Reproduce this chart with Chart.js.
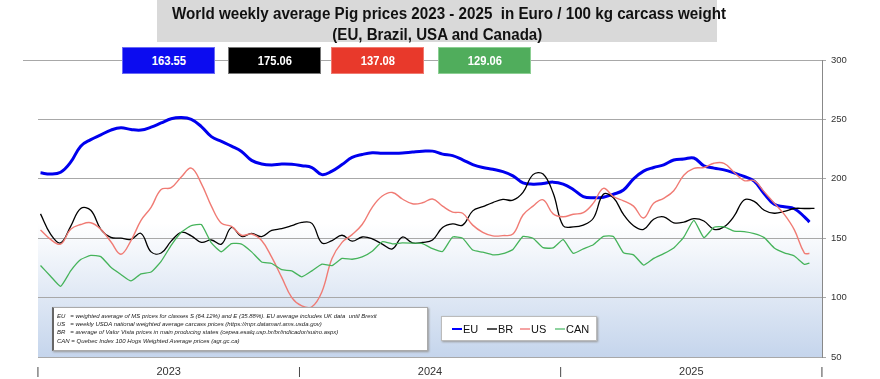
<!DOCTYPE html>
<html>
<head>
<meta charset="utf-8">
<script src="https://cdn.jsdelivr.net/npm/chart.js@4.4.1/dist/chart.umd.min.js"></script>
<style>
  html,body{margin:0;padding:0;background:#fff;}
  #wrap{position:relative;width:880px;height:379px;overflow:hidden;}
  #c{position:absolute;left:0;top:0;}
  #title{position:absolute;left:157px;top:0;width:560px;height:42px;background:#d9d9d9;color:#111;font-family:'Liberation Sans',sans-serif;font-weight:bold;font-size:16px;}
  .tl{position:absolute;left:0;width:560px;text-align:center;white-space:nowrap;line-height:18px;}
  .tl span{display:inline-block;transform-origin:50% 50%;}
  .vbox{position:absolute;top:47px;height:27px;color:#fff;font-family:'Liberation Sans',sans-serif;font-weight:bold;font-size:13px;line-height:25px;text-align:center;box-sizing:border-box;}
  .vbox span{display:inline-block;transform:scaleX(0.86);}
  #note{position:absolute;left:52px;top:307px;width:376px;height:44px;background:#fff;border:1px solid #aaa;border-left:2px solid #666;box-shadow:1px 1px 2px #999;box-sizing:border-box;padding:4px 0 0 3px;font-family:'Liberation Sans',sans-serif;font-style:italic;font-size:6px;line-height:8.2px;color:#222;white-space:pre;}
  #legend{position:absolute;left:441px;top:316px;width:156px;height:25px;background:#fff;border:1px solid #bbb;box-shadow:1px 1px 2px #999;box-sizing:border-box;font-family:'Liberation Sans',sans-serif;font-size:11px;color:#111;}
  .li{position:absolute;top:5px;height:14px;line-height:14px;}
  .ll{position:absolute;top:11px;width:10px;}
</style>
</head>
<body>
<div id="wrap">
  <canvas id="c" width="880" height="379"></canvas>
  <div id="title">
    <div class="tl" style="top:5px"><span id="t1" data-w="554">World weekly average Pig prices 2023 - 2025&nbsp; in Euro / 100 kg carcass weight</span></div>
    <div class="tl" style="top:26px"><span id="t2" data-w="210">(EU, Brazil, USA and Canada)</span></div>
  </div>
  <div id="note">EU   = weighted average of MS prices for classes S (64.12%) and E (35.88%). EU average includes UK data  until Brexit
US   = weekly USDA national weighted average carcass prices (https://mpr.datamart.ams.usda.gov)
BR   = average of Valor Vista prices in main producing states (cepea.esalq.usp.br/br/indicador/suino.aspx)
CAN = Quebec Index 100 Hogs Weighted Average prices (agr.gc.ca)</div>
  <div id="legend"></div>
</div>
<script>
// Week numbers (1 = first week of 2023), sampled every 2 weeks
const weeks = [1,3,5,7,9,11,13,15,17,19,21,23,25,27,29,31,33,35,37,39,41,43,45,47,49,51,
  53,55,57,59,61,63,65,67,69,71,73,75,77,79,81,83,85,87,89,91,93,95,97,99,101,103,
  105,107,109,111,113,115,117,119,121,123,125,127,129,131,133,135,137,139,141,143,145,147,149,151,153,154,155];

const seriesNames = ['EU','BR','US','CAN'];

const euValues = [205,204,205.5,214,227.5,233,237,241,243,241.5,
  241,243.5,247,250.5,251.5,250,244,235.5,231.5,227.5,
  223,215.5,212.5,211.7,212.4,212.2,211,209.5,203.5,206.5,
  212,218,220.5,222,221.5,221.5,221.7,222.5,223.2,223.3,
  220.8,219.5,216,212,209.5,208,206,202.5,196.5,195.5,
  196,197.2,195.5,191,185,184,184.5,187,190.6,200,
  206.5,209.5,211.8,215.8,216.7,217.5,211,209,207.5,205,
  202,198,187.5,178.5,176.5,174.8,168,163.55];

const brValues = [170.5,153.5,146,160,175,173.5,157.5,150.7,150,149,
  154,138.5,137.5,147.5,155,152,146.5,148.5,145,159,
  151.5,154,151.3,156.5,158,160.5,163.4,162.5,146,148,
  152.5,147.5,151,149.5,145,141,151,146,146.5,148.5,
  159,162,161,173,176.5,180,182.6,182,188.5,203.5,
  204,188,160.5,159.5,161,166.8,187,184,170,160.5,
  157.5,166,168,163,163.5,166.5,164.5,157.5,159.5,168.5,
  182.2,181,173.5,171,172.5,175,175,175,175.06];

const usValues = [157,149,145,157.5,161.5,163,157.5,147,136.5,148,
  165,176,191,192.5,201.5,209,196,177,162.5,160,
  152.5,153.5,148,134,117,100,93,92.3,105,133,
  146.5,153,161.5,176,185.5,188.5,183,179,179.8,183,
  177,172,171,161,155,152,152.2,153.5,169.5,177,
  182.3,170.5,168,170.2,171.5,179.5,192,185,181.5,177,
  167,179.5,183.6,190,203,208.8,209.5,213.1,213,205.5,
  198.5,198.5,189,179.5,170,157,137.5,137.08];

const canValues = [127,118,109.5,122.5,132,135.5,134.5,125.5,119.5,114,
  120,121.5,130.5,144,155,160.5,161.5,146,138.6,145.5,
  145,138.5,130,128.7,123.5,122.5,117.5,122.5,128.2,127,
  133,132.3,134.2,139,147,145.3,146,145.8,145.5,141.2,
  138.8,151,150,140,138.2,136,137,140.5,151.5,150,
  142,141.8,148.8,137.3,141,144.5,151.5,151.5,137.8,136,
  127.4,133,137,141.8,151,165,150.5,159.2,159.6,156,
  155.5,153.8,150.5,141.8,137.7,135,128,129.06];

// x axis: year boundaries and year labels (in week units)
const xTickValues = [0.5,26.5,52.5,78.5,104.5,130.5,156.5];
const xTickLabels = ['|','2023','|','2024','|','2025','|'];

const allValues = {EU:euValues, BR:brValues, US:usValues, CAN:canValues};
const lineColors = {EU:'#0000ee', BR:'#000000', US:'#f07b74', CAN:'#45b35a'};
const lineWidths = {EU:3, BR:1.3, US:1.4, CAN:1.3};
const tensions = {EU:0.4, BR:0.4, US:0.4, CAN:0.15};
const legendColors = {EU:'#0000ff', BR:'#555555', US:'#f5a3a3', CAN:'#8fd3a0'};
const boxColors = {EU:['#0c0cf0','#6a6af5'], BR:['#000000','#777777'], US:['#e8392b','#f07a70'], CAN:['#50ad5c','#8ccf93']};

const toPts = vals => vals.map((v,i)=>({x:weeks[i], y:v}));

const datasets = ['CAN','US','BR','EU'].map(n=>({
  label:n, data:toPts(allValues[n]), borderColor:lineColors[n], borderWidth:lineWidths[n],
  tension:tensions[n], pointRadius:0, fill:false
}));

const bgPlugin = {
  id:'bg',
  beforeDraw(chart){
    const {ctx, chartArea:a} = chart;
    const g = ctx.createLinearGradient(0,a.top,0,a.bottom);
    g.addColorStop(0,'#ffffff');
    g.addColorStop(0.55,'#ffffff');
    g.addColorStop(1,'#c5d5ec');
    ctx.save();
    ctx.fillStyle = g;
    ctx.fillRect(a.left,a.top,a.right-a.left,a.bottom-a.top);
    const y = chart.scales.y.getPixelForValue(300);
    ctx.strokeStyle = '#a8a8a8'; ctx.lineWidth = 1;
    ctx.beginPath(); ctx.moveTo(23, Math.round(y)+0.5); ctx.lineTo(a.left, Math.round(y)+0.5); ctx.stroke();
    ctx.restore();
  }
};

new Chart(document.getElementById('c'), {
  type:'line',
  data:{datasets},
  options:{
    responsive:false, animation:false, devicePixelRatio:1,
    layout:{padding:{left:38,top:60,right:0,bottom:0}},
    plugins:{legend:{display:false}, title:{display:false}, tooltip:{enabled:false}},
    scales:{
      x:{
        type:'linear', min:0.5, max:156.5,
        grid:{display:false}, border:{display:false},
        afterBuildTicks:s=>{ s.ticks = xTickValues.map(v=>({value:v})); },
        afterFit:s=>{ s.height = 22; },
        ticks:{autoSkip:false, maxRotation:0, padding:0, color:'#333',
          font:{family:"'Liberation Sans',sans-serif", size:11},
          callback:v=>{ const i = xTickValues.indexOf(v); return i>=0 ? xTickLabels[i] : ''; }}
      },
      y:{
        position:'right', min:50, max:300,
        ticks:{stepSize:50, padding:5, color:'#333', font:{family:"'Liberation Sans',sans-serif", size:9.5}},
        grid:{color:'#a8a8a8', lineWidth:1, tickLength:4},
        border:{display:true, color:'#888'},
        afterFit:s=>{ s.width = 58; }
      }
    }
  },
  plugins:[bgPlugin]
});

// fit title lines to the reference widths
['t1','t2'].forEach(id=>{
  const el = document.getElementById(id);
  const w = el.getBoundingClientRect().width;
  el.style.transform = 'scaleX(' + (parseFloat(el.dataset.w)/w) + ')';
});

// value boxes (latest values)
const boxLeft = {EU:122, BR:228, US:331, CAN:438};
const boxWidth = {EU:93, BR:93, US:93, CAN:93};
const wrap = document.getElementById('wrap');
seriesNames.forEach(n=>{
  const d = document.createElement('div');
  d.className = 'vbox';
  const vals = allValues[n];
  const s = document.createElement('span');
  s.textContent = vals[vals.length-1].toFixed(2);
  d.appendChild(s);
  d.style.left = boxLeft[n]+'px';
  d.style.width = boxWidth[n]+'px';
  d.style.background = boxColors[n][0];
  d.style.border = '1px solid '+boxColors[n][1];
  wrap.appendChild(d);
});

// legend
const legend = document.getElementById('legend');
const legPos = {EU:[10,21], BR:[45,56], US:[78,89], CAN:[113,124]};
seriesNames.forEach(n=>{
  const l = document.createElement('div');
  l.className = 'll';
  l.style.left = legPos[n][0]+'px';
  l.style.borderTop = (n==='EU'?2.5:2)+'px solid '+legendColors[n];
  legend.appendChild(l);
  const t = document.createElement('div');
  t.className = 'li';
  t.style.left = legPos[n][1]+'px';
  t.textContent = n;
  legend.appendChild(t);
});
</script>
</body>
</html>
